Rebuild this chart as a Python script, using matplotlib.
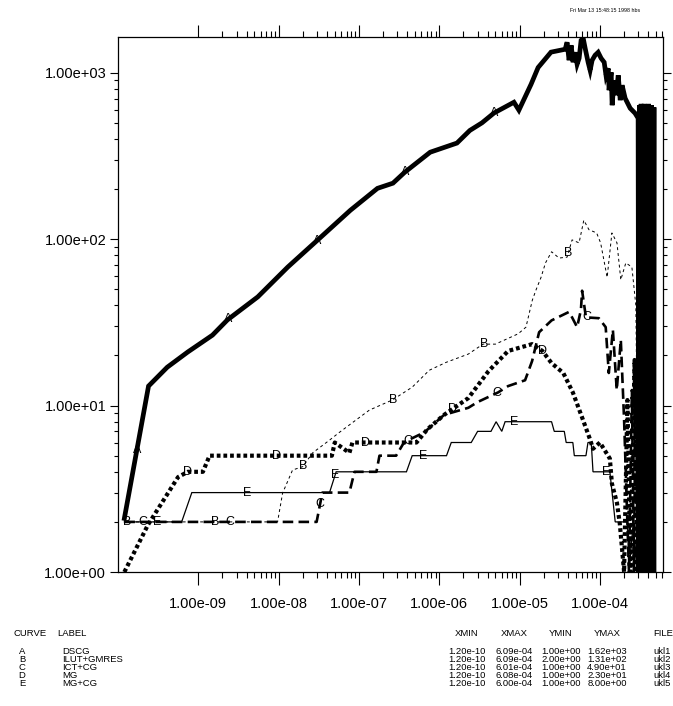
import numpy as np
import matplotlib.pyplot as plt
from matplotlib.ticker import FixedLocator, FuncFormatter, NullFormatter

plt.rcParams['font.family'] = ['Liberation Sans', 'DejaVu Sans']

# curve A: DSCG
a_x = [1.2e-10, 2.4e-10, 4.1e-10, 7.4e-10, 1.5e-9, 2.3e-9, 5.5e-9, 1.3e-8, 3.0e-8,
       7.8e-8, 1.7e-7, 2.65e-7, 3.7e-7, 7.7e-7, 1.66e-6, 2.4e-6, 3.4e-6, 4.8e-6,
       8.5e-6, 9.8e-6, 1.39e-5, 1.7e-5, 2.46e-5,
       3.69e-5, 3.9e-5, 4.13e-5, 4.38e-5, 4.63e-5, 4.91e-5, 5.2e-5, 5.51e-5, 5.83e-5,
       6.18e-5, 6.55e-5, 7.13e-5, 7.55e-5, 8.0e-5, 8.7e-5, 9.5e-5, 1.035e-4, 1.13e-4,
       1.19e-4, 1.27e-4, 1.30e-4, 1.38e-4, 1.42e-4, 1.50e-4, 1.59e-4, 1.69e-4, 1.79e-4,
       1.89e-4, 2.06e-4, 2.38e-4, 2.74e-4, 2.99e-4,
       3.05e-4, 3.12e-4, 3.19e-4, 3.26e-4, 3.33e-4, 3.40e-4, 3.47e-4, 3.55e-4, 3.62e-4,
       3.70e-4, 3.78e-4, 3.86e-4, 3.95e-4, 4.03e-4, 4.12e-4, 4.21e-4, 4.30e-4, 4.39e-4,
       4.49e-4, 4.59e-4, 4.69e-4, 4.75e-4]
a_y = [2.1, 13.1, 17, 21, 26.5, 32.7, 45, 68, 98,
       149, 202, 217, 252, 333, 378, 450, 500, 573,
       665, 596, 853, 1075, 1330,
       1384, 1525, 1189, 1463, 1156, 1327, 1125, 1222, 1567,
       1620, 1403, 1156, 1035, 1189, 1274, 1327, 1222, 1156,
       966, 1064, 785, 1007, 638, 901, 733, 966, 684,
       841, 703, 612, 571, 533,
       1, 640, 1, 650, 1, 620, 1, 650, 1,
       640, 1, 630, 1, 650, 1, 610, 1, 640,
       1, 620, 1, 600]

# curve B: ILUT+GMRES
b_x = [1.2e-10, 9.7e-9, 1.12e-8, 1.49e-8, 2.0e-8, 2.65e-8, 4.3e-8, 5.7e-8, 8.3e-8,
       1.35e-7, 2.6e-7, 4.6e-7, 7.5e-7, 1.22e-6, 2.3e-6, 3.5e-6, 5.0e-6, 9.6e-6,
       1.2e-5, 1.44e-5, 1.6e-5, 1.85e-5, 2.1e-5, 2.5e-5, 3.1e-5, 3.9e-5, 4.5e-5,
       5.5e-5, 6.3e-5, 7.3e-5, 9.1e-5, 1.02e-4, 1.23e-4, 1.41e-4, 1.63e-4, 1.82e-4,
       2.1e-4, 2.5e-4, 2.8e-4, 3.0e-4]
b_y = [2, 2, 2.98, 4.1, 4.3, 5.2, 6.2, 6.9, 7.9,
       9.4, 10.8, 12.9, 16.3, 18.2, 20.4, 23.4, 23.4, 27,
       29.6, 43, 49.5, 59, 72, 84, 77, 78, 99,
       95, 130, 114, 109, 95, 59, 109, 95, 57,
       72, 68, 40, 2]

# curve C: ICT+CG
c_x = [1.2e-10, 2.97e-8, 3.5e-8, 7.6e-8, 8.8e-8, 1.65e-7, 1.8e-7, 2.9e-7, 3.56e-7,
       4.4e-7, 6.5e-7, 1.15e-6, 2.3e-6, 3.0e-6, 5.4e-6, 7.2e-6, 1.17e-5, 1.43e-5,
       1.75e-5, 2.5e-5, 4.1e-5, 4.5e-5, 5.2e-5, 5.8e-5, 6.0e-5, 6.7e-5, 9.7e-5,
       1.18e-4, 1.29e-4, 1.45e-4, 1.62e-4, 1.82e-4, 2.0e-4, 2.3e-4,
       2.5e-4, 2.65e-4, 2.8e-4, 2.95e-4, 3.1e-4, 3.3e-4]
c_y = [2, 2, 3, 3, 4, 4, 5, 5, 5.9,
       6.3, 6.9, 8.8, 9.7, 10.5, 12.0, 13.1, 14.2, 18.5,
       27.6, 32.5, 36.5, 33.9, 29.6, 37.6, 49, 33.9, 33.5,
       29.6, 15.7, 28.5, 12.4, 24.8, 8.2, 1,
       12.4, 1, 17.5, 1, 21, 1]

# curve D: MG
d_x = [1.2e-10, 2.36e-10, 5.6e-10, 7.4e-10, 1.14e-9, 1.38e-9, 4.6e-8, 5.0e-8, 7.6e-8,
       8.3e-8, 5.2e-7, 7.1e-7, 1.15e-6, 2.3e-6, 4.1e-6, 7.2e-6, 1.43e-5, 1.92e-5,
       2.5e-5, 3.5e-5, 4.6e-5, 6.1e-5, 7.5e-5, 8.2e-5, 1.0e-4, 1.33e-4, 1.41e-4,
       1.63e-4, 1.77e-4, 2.0e-4,
       2.2e-4, 2.4e-4, 2.7e-4, 2.9e-4, 3.1e-4, 3.3e-4]
d_y = [1, 1.92, 3.72, 4, 4, 5, 5, 6, 5.2,
       6, 6, 7.2, 8.8, 11.1, 16.1, 21.3, 23.4, 21.3,
       18.0, 15.7, 12.0, 8.3, 6.3, 5.5, 6.0, 4.8, 3.4,
       2.6, 1.94, 1,
       10.8, 1, 18.8, 1, 15, 1]

# curve E: MG+CG
e_x = [1.2e-10, 6.2e-10, 8.3e-10, 4.3e-8, 5.2e-8, 3.9e-7, 4.6e-7, 1.23e-6, 1.41e-6,
       2.5e-6, 3.0e-6, 4.4e-6, 5.1e-6, 6.0e-6, 6.6e-6, 2.5e-5, 2.7e-5, 3.6e-5,
       3.8e-5, 4.6e-5, 4.8e-5, 6.7e-5, 7.1e-5, 7.8e-5, 8.2e-5, 1.33e-4, 1.55e-4,
       2.2e-4, 2.3e-4, 2.6e-4, 2.9e-4, 3.2e-4]
e_y = [2, 2, 3, 3, 4, 4, 5, 5, 6,
       6, 7, 7, 8, 7, 8, 8, 7, 7,
       6, 6, 5, 5, 6, 6, 4, 4, 2,
       2, 1, 2, 1, 2]

# where the curve letters sit along each curve
lab_a = [1.72e-10, 2.34e-9, 3.0e-8, 3.75e-7, 4.8e-6]
lab_b = [1.29e-10, 1.61e-9, 2.01e-8, 2.66e-7, 3.61e-6, 4.02e-5]
lab_c = [2.05e-10, 2.48e-9, 3.28e-8, 4.08e-7, 5.25e-6, 6.9e-5]
lab_d = [7.4e-10, 9.5e-9, 1.19e-7, 1.44e-6, 1.91e-5]
lab_e = [3.06e-10, 4.04e-9, 5.04e-8, 6.28e-7, 8.55e-6, 1.19e-4]

names = ['DSCG', 'ILUT+GMRES', 'ICT+CG', 'MG', 'MG+CG']
letters = ['A', 'B', 'C', 'D', 'E']
xmin = ['1.20e-10'] * 5
xmax = ['6.09e-04', '6.09e-04', '6.01e-04', '6.08e-04', '6.00e-04']
ymin = ['1.00e+00', '2.00e+00', '1.00e+00', '1.00e+00', '1.00e+00']
ymax = ['1.62e+03', '1.31e+02', '4.90e+01', '2.30e+01', '8.00e+00']
files = ['ukl1', 'ukl2', 'ukl3', 'ukl4', 'ukl5']

fig = plt.figure(figsize=(6.73, 7.06), dpi=100)
ax = fig.add_axes([118/673, 1 - 572/706, 545/673, 535/706])

curves = [
    (a_x, a_y, dict(color='black', lw=3.4, ls='-', zorder=6), lab_a),
    (b_x, b_y, dict(color='black', lw=0.7, ls=(0, (3, 3))), lab_b),
    (c_x, c_y, dict(color='black', lw=1.9, ls=(0, (4, 2))), lab_c),
    (d_x, d_y, dict(color='black', lw=3.0, ls=(0, (0.9, 0.7))), lab_d),
    (e_x, e_y, dict(color='black', lw=0.9, ls='-'), lab_e),
]
for (x, y, style, labs), letter in zip(curves, letters):
    ax.plot(x, y, solid_joinstyle='miter', **style)
    ly = 10 ** np.interp(np.log10(labs), np.log10(x), np.log10(y))
    for lx, yy in zip(labs, ly):
        ax.text(lx, yy, letter, fontsize=9, ha='center', va='center', zorder=7)

ax.set_xscale('log')
ax.set_yscale('log')
ax.set_xlim(1e-10, 6.1e-4)
ax.set_ylim(1, 1.64e3)

fmt = FuncFormatter(lambda v, p: '%.2e' % v)
ax.xaxis.set_major_locator(FixedLocator([10.0 ** e for e in range(-9, -3)]))
ax.xaxis.set_minor_locator(FixedLocator([m * 10.0 ** e for e in range(-9, -3) for m in range(2, 10)]))
ax.yaxis.set_major_locator(FixedLocator([1, 10, 100, 1000]))
ax.yaxis.set_minor_locator(FixedLocator([m * 10.0 ** e for e in range(0, 3) for m in range(2, 10)]))
ax.xaxis.set_major_formatter(fmt)
ax.yaxis.set_major_formatter(fmt)
ax.xaxis.set_minor_formatter(NullFormatter())
ax.yaxis.set_minor_formatter(NullFormatter())

ax.tick_params(axis='x', which='major', direction='out', length=9, width=0.8,
               top=True, labelsize=10.5, pad=9)
ax.tick_params(axis='x', which='minor', direction='out', length=4.5, width=0.8, top=True)
ax.tick_params(axis='y', which='major', direction='out', length=5.5, width=0.8,
               right=True, labelsize=10.5, pad=3)
ax.tick_params(axis='y', which='minor', direction='out', length=3, width=0.8, right=True)
for s in ax.spines.values():
    s.set_linewidth(0.9)

fig.text(640/673, 1 - 10/706, 'Fri Mar 13 15:48:15 1998 hbs', fontsize=3.8,
         ha='right', va='center')

# table under the plot
fs = 6.8
fig.text(13/673, 1 - 633/706, 'CURVE', fontsize=fs, va='center')
fig.text(57/673, 1 - 633/706, 'LABEL', fontsize=fs, va='center')
cols = [(467, 'XMIN', xmin), (514, 'XMAX', xmax), (561, 'YMIN', ymin), (607, 'YMAX', ymax)]
for cx, head, vals in cols:
    fig.text(cx/673, 1 - 633/706, head, fontsize=fs, ha='center', va='center')
fig.text(653/673, 1 - 633/706, 'FILE', fontsize=fs, va='center')
row_y = [652, 660, 668, 676, 684]
for i, ry in enumerate(row_y):
    fig.text(22/673, 1 - ry/706, letters[i], fontsize=fs, ha='center', va='center')
    fig.text(62/673, 1 - ry/706, names[i], fontsize=fs, va='center')
    for cx, head, vals in cols:
        fig.text(cx/673, 1 - ry/706, vals[i], fontsize=fs, ha='center', va='center')
    fig.text(653/673, 1 - ry/706, files[i], fontsize=fs, va='center')

fig.savefig('out.png', dpi=100)
